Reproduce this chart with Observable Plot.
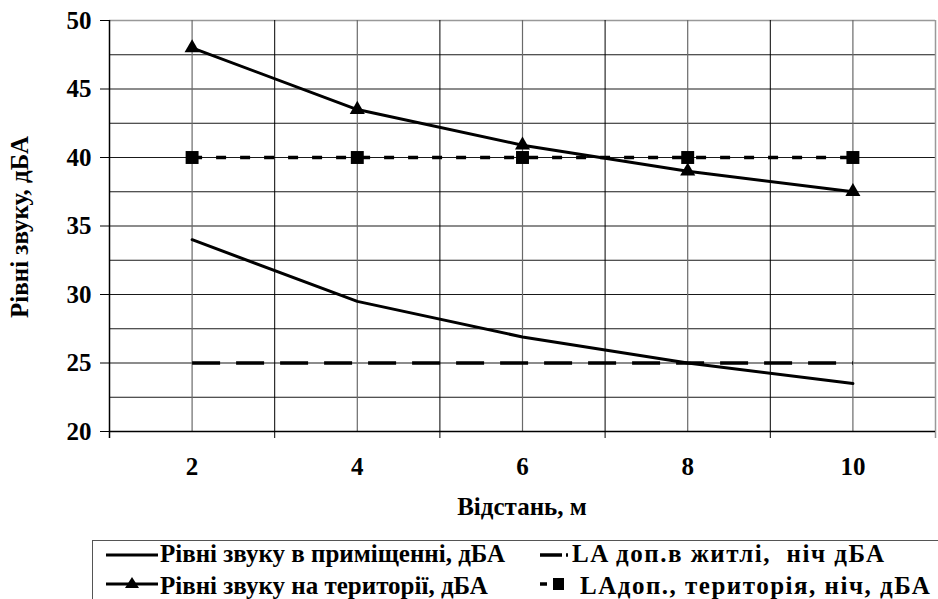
<!DOCTYPE html>
<html><head><meta charset="utf-8">
<script src="https://cdn.jsdelivr.net/npm/d3@7"></script>
<script src="https://cdn.jsdelivr.net/npm/@observablehq/plot@0.6"></script>
<style>
body{margin:0;background:#fff;}
#wrap{position:relative;width:938px;height:599px;overflow:hidden;font-family:"Liberation Serif",serif;font-weight:bold;color:#000;}
#chart{position:absolute;left:0;top:0;}
#legend{position:absolute;left:92px;top:540px;width:880px;height:90px;border:1.5px solid #555;box-sizing:border-box;}
.sw{position:absolute;}
.lt{position:absolute;font-size:25px;line-height:28px;white-space:pre;}
.c2{letter-spacing:1.5px;}
#xtitle{position:absolute;left:322px;width:400px;text-align:center;top:493px;font-size:25px;line-height:28px;white-space:pre;}
#ytitle{position:absolute;left:-130px;top:213px;width:300px;height:28px;text-align:center;font-size:25px;line-height:28px;white-space:pre;transform:rotate(-90deg);transform-origin:50% 50%;}
</style></head><body><div id="wrap"><div id="chart"></div><div id="xtitle"></div><div id="ytitle"></div><div id="legend"></div></div>
<script>
// ---- data ----
const distances = [2, 4, 6, 8, 10];
const indoor = [34.0, 29.5, 26.9, 25.0, 23.5];
const territory = [48.0, 43.5, 40.9, 39.0, 37.5];
const limitHome = [25, 25, 25, 25, 25];
const limitTerritory = [40, 40, 40, 40, 40];
const seriesNames = [
  "Рівні звуку в приміщенні, дБА",
  "Рівні звуку на території, дБА",
  "LA доп.в житлі,  ніч дБА",
  "LAдоп., територія, ніч, дБА"
];
const yTicks = [20, 25, 30, 35, 40, 45, 50];
const yGrid = [22.5, 25, 27.5, 30, 32.5, 35, 37.5, 40, 42.5, 45, 47.5];
const xBounds = [3, 5, 7, 9];
const xTitle = "Відстань, м";
const yTitle = "Рівні звуку, дБА";

const rows = distances.map((d, i) => ({
  d, indoor: indoor[i], territory: territory[i], home: limitHome[i], terr: limitTerritory[i]
}));

const chart = Plot.plot({
  width: 938, height: 535,
  marginLeft: 109, marginRight: 3, marginTop: 20, marginBottom: 104,
  style: {fontFamily: "Liberation Serif, serif", fontWeight: "bold", fontSize: "25px", color: "#000", background: "#fff", overflow: "visible"},
  x: {type: "linear", domain: [1, 11], ticks: distances, tickSize: 0, tickPadding: 26, tickFormat: d => String(d), label: null},
  y: {domain: [20, 50], ticks: yTicks, tickSize: 9, tickPadding: 9, label: null},
  marks: [
    Plot.ruleY(yGrid, {stroke: "#000", strokeWidth: 1, strokeOpacity: 0.9}),
    Plot.ruleY([50], {stroke: "#999", strokeWidth: 1.5}),
    Plot.ruleX(distances, {stroke: "#6a6a6a", strokeWidth: 1.2}),
    Plot.ruleX(xBounds, {stroke: "#000", strokeWidth: 1, insetBottom: -7}),
    Plot.ruleX([11], {stroke: "#999", strokeWidth: 1.5, insetBottom: -7}),
    Plot.ruleX([1], {stroke: "#000", strokeWidth: 1.5, insetBottom: -7}),
    Plot.ruleY([20], {stroke: "#000", strokeWidth: 1.5}),
    Plot.line(rows, {x: "d", y: "home", stroke: "#000", strokeWidth: 3.5, strokeDasharray: "28,16", strokeLinecap: "butt"}),
    Plot.line(rows, {x: "d", y: "terr", stroke: "#000", strokeWidth: 3.5, strokeDasharray: "10,14", strokeLinecap: "butt"}),
    Plot.dot(rows, {x: "d", y: "terr", symbol: "square", r: 7.3, fill: "#000", stroke: "none"}),
    Plot.line(rows, {x: "d", y: "indoor", stroke: "#000", strokeWidth: 3}),
    Plot.line(rows, {x: "d", y: "territory", stroke: "#000", strokeWidth: 3}),
    Plot.dot(rows, {x: "d", y: "territory", symbol: "triangle", r: 5.6, fill: "#000", stroke: "none"})
  ]
});
d3.select(chart).selectAll("text")
  .style("font-family", '"Liberation Serif", serif')
  .style("font-weight", "bold")
  .style("font-size", "25px")
  .style("fill", "#000");
document.getElementById("chart").appendChild(chart);
document.getElementById("xtitle").textContent = xTitle;
document.getElementById("ytitle").textContent = yTitle;

// ---- legend (HTML) ----
const legend = document.getElementById("legend");
const ns = "http://www.w3.org/2000/svg";
function swatch(left, top, w, h, draw) {
  const s = document.createElementNS(ns, "svg");
  s.setAttribute("width", w); s.setAttribute("height", h);
  s.setAttribute("class", "sw");
  s.style.left = left + "px"; s.style.top = top + "px";
  s.innerHTML = draw;
  legend.appendChild(s);
}
function label(left, top, text, cls) {
  const d = document.createElement("div");
  d.className = "lt" + (cls ? " " + cls : ""); d.style.left = left + "px"; d.style.top = top + "px";
  d.textContent = text; legend.appendChild(d);
}
swatch(13, 3.5, 52, 20, '<line x1="0" y1="10" x2="52" y2="10" stroke="#000" stroke-width="3"/>');
label(67, -1, seriesNames[0]);
swatch(13, 32.5, 52, 20, '<line x1="0" y1="10" x2="52" y2="10" stroke="#000" stroke-width="3"/><path d="M26,3 L33,14 L19,14 Z" fill="#000"/>');
label(67, 31, seriesNames[1]);
swatch(447, 3.5, 32, 20, '<line x1="0" y1="10" x2="22" y2="10" stroke="#000" stroke-width="3.5"/><line x1="26" y1="10" x2="28" y2="10" stroke="#000" stroke-width="3.5"/>');
label(479, -1, seriesNames[2], "c2");
swatch(447, 32.5, 32, 20, '<line x1="0" y1="10" x2="7" y2="10" stroke="#000" stroke-width="3.5"/><rect x="13" y="4" width="11" height="12" fill="#000"/>');
label(487, 31, seriesNames[3], "c2");
</script></body></html>
